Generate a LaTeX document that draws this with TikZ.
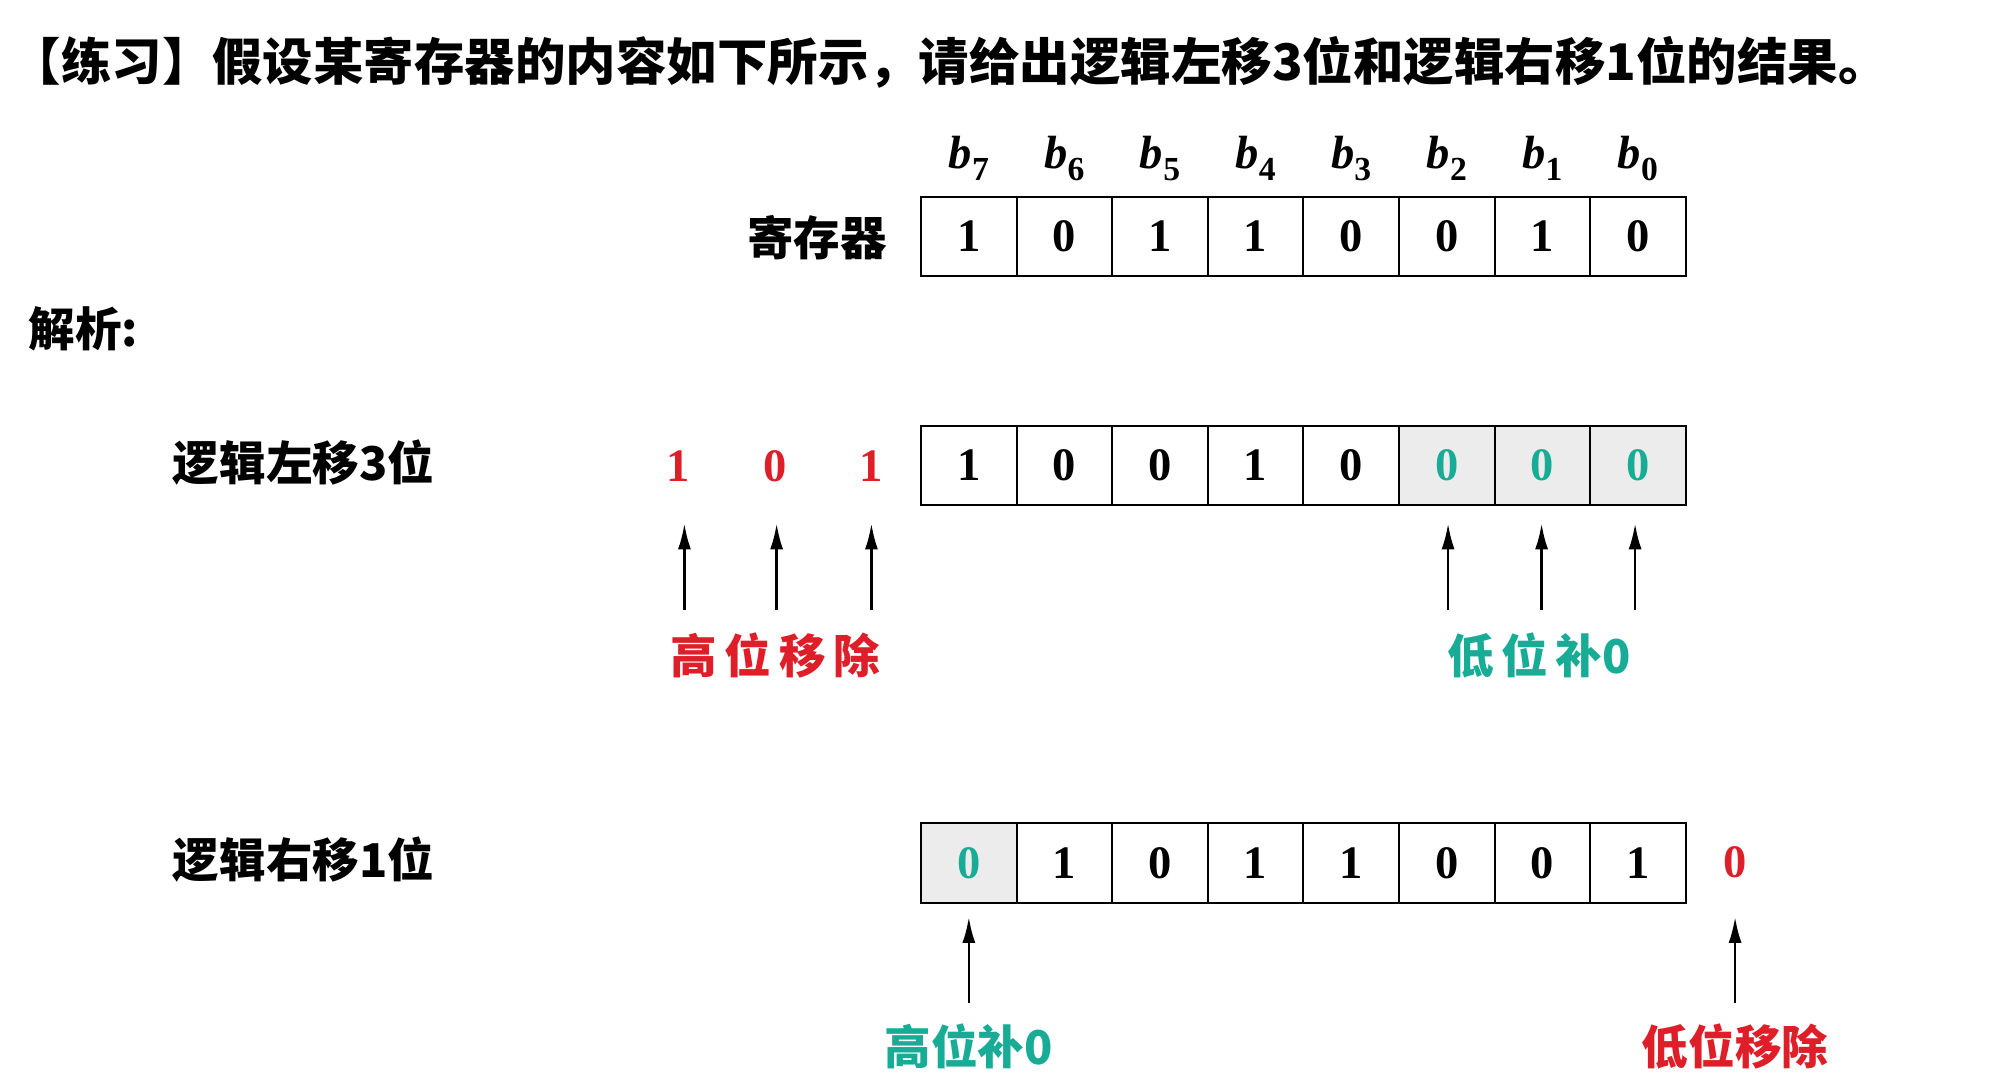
\documentclass[tikz,border=0pt]{standalone}
\usepackage{fontspec}
\setmainfont{Liberation Serif}
\newfontfamily\cjk{Noto Sans CJK SC}
\definecolor{myred}{RGB}{222,30,40}
\definecolor{myteal}{RGB}{24,172,150}
\tikzset{
 cell/.style={draw,line width=1.6bp,minimum width=73.6bp,minimum height=61bp,inner sep=0pt,font=\fontsize{36}{36}\selectfont\bfseries},
 shaded/.style={fill=gray!15,text=myteal},
 zh/.style={font=\fontsize{36}{38}\selectfont\cjk\bfseries,inner sep=0pt},
 dig/.style={font=\fontsize{36}{36}\selectfont\bfseries,inner sep=0pt},
 arr/.style={-{Latex[length=20bp,width=10bp]},line width=2bp}
}
\usetikzlibrary{arrows.meta}
\begin{document}
\begin{tikzpicture}[x=1bp,y=-1bp]
\useasboundingbox (0,0) rectangle (1550,829);
\node[zh,anchor=west,font=\fontsize{39}{40}\selectfont\cjk\bfseries] (title) at (8,48) {【练习】假设某寄存器的内容如下所示，请给出逻辑左移3位和逻辑右移1位的结果。};
% register
\foreach \i/\v [count=\k from 0] in {7/1,6/0,5/1,4/1,3/0,2/0,1/1,0/0}{
  \node[cell] (r\k) at (746+73.6*\k,182) {\v};
  \node[font=\fontsize{36}{36}\selectfont\bfseries\itshape,inner sep=0pt] (b\k) at (746+73.6*\k,122) {b\raisebox{-0.25em}{\fontsize{26}{26}\selectfont\upshape\i}};
}
\node[zh,anchor=east] (reg) at (683,183) {寄存器};
\node[zh,anchor=west] (jx) at (22,253) {解析:};
% left shift
\node[zh,anchor=west] (l3) at (133,356) {逻辑左移3位};
\foreach \v [count=\k from 0] in {1,0,0,1,0}{
  \node[cell] (a\k) at (746+73.6*\k,358.5) {\v};}
\foreach \k in {5,6,7}{\node[cell,shaded] (a\k) at (746+73.6*\k,358.5) {0};}
\node[dig,text=myred] (o1) at (522,359) {1};
\node[dig,text=myred] (o2) at (597,359) {0};
\node[dig,text=myred] (o3) at (671,359) {1};
\node[zh,text=myred] (gwyc) at (597,505) {高\,位\,移\,除};
\node[zh,text=myteal] (dwb) at (1185,505) {低\,位\,补0};
\foreach \x/\n in {527/p1,598/p2,671/p3,1115/p4,1187/p5,1259/p6}{
  \coordinate (\n s) at (\x,470); \coordinate (\n e) at (\x,403);
  \draw[arr] (\n s) -- (\n e);}
% right shift
\node[zh,anchor=west] (r1) at (133,662) {逻辑右移1位};
\node[cell,shaded] (c0) at (746,664.5) {0};
\foreach \v [count=\k from 1] in {1,0,1,1,0,0,1}{
  \node[cell] (c\k) at (746+73.6*\k,664.5) {\v};}
\node[dig,text=myred] (o4) at (1336,664) {0};
\coordinate (q1s) at (746,772); \coordinate (q1e) at (746,706);
\coordinate (q2s) at (1336,772); \coordinate (q2e) at (1336,706);
\draw[arr] (q1s) -- (q1e);
\draw[arr] (q2s) -- (q2e);
\node[zh,text=myteal] (gwb) at (746,806) {高位补0};
\node[zh,text=myred] (dwyc) at (1336,806) {低位移除};
\end{tikzpicture}
\end{document}
